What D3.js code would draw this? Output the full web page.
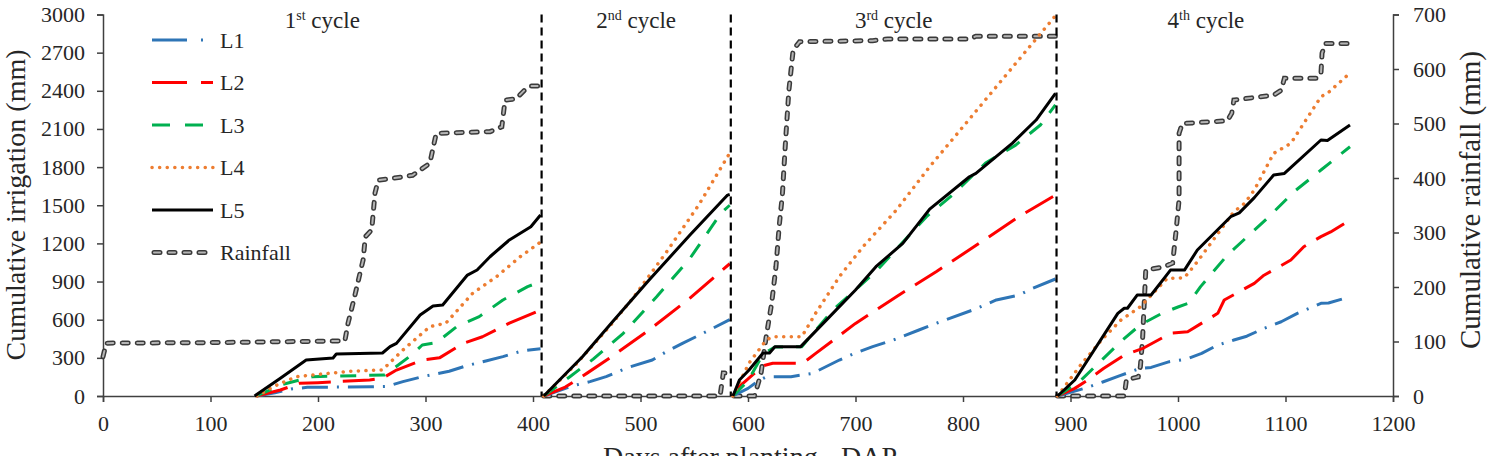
<!DOCTYPE html>
<html>
<head>
<meta charset="utf-8">
<script src="https://cdn.jsdelivr.net/npm/d3@7"></script>
<style>
body { margin: 0; background: #fff; }
text { font-family: "Liberation Serif", "Times New Roman", serif; fill: #262626; }
</style>
</head>
<body>
<div id="chart"></div>
<script>
// cumulative irrigation for the 5 treatments + cumulative rainfall over 4 cycles
// every point is [DAP, mm], null breaks the line between two cycles

var l1 = [[143,0],[160,25],[175,55],[190,68],[250,72],[264,75],[279,113],[297,152],[322,195],[339,240],[357,277],[372,310],[390,355],[407,372], null,
    [410,0],[437,80],[453,113],[468,152],[487,220],[511,283],[524,348],[539,414],[555,480],[583,600], null,
    [586,0],[600,60],[611,126],[617,150],[640,152],[660,178],[685,283],[700,338],[716,388],[735,440],[759,519],[775,571],[809,676],[831,755],[852,794],[865,847],[886,920], null,
    [888,0],[913,60],[930,110],[946,160],[965,218],[975,225],[992,270],[1008,290],[1022,335],[1037,401],[1052,440],[1064,470],[1080,532],[1096,584],[1111,650],[1133,729],[1140,731],[1160,781]];

var l2 = [[143,0],[165,47],[183,100],[200,105],[248,126],[260,140],[273,204],[297,283],[313,300],[335,414],[353,466],[378,573],[407,676], null,
    [410,0],[430,70],[450,178],[471,296],[508,519],[546,770],[583,1040], null,
    [586,0],[590,60],[604,165],[615,240],[623,257],[651,257],[663,335],[700,571],[738,781],[775,977],[815,1200],[852,1410],[886,1580], null,
    [888,0],[904,60],[916,126],[931,218],[950,322],[968,377],[993,493],[1009,505],[1037,650],[1043,755],[1071,886],[1080,950],[1105,1069],[1117,1174],[1133,1253],[1142,1290],[1160,1384]];

var l3 = [[143,0],[165,86],[195,152],[262,165],[285,309],[297,401],[310,419],[329,545],[350,624],[372,755],[395,860],[407,899], null,
    [410,0],[434,150],[456,290],[484,493],[515,780],[546,1082],[575,1440],[583,1500], null,
    [586,0],[600,120],[614,330],[625,385],[650,388],[679,676],[719,980],[766,1410],[790,1580],[821,1832],[849,1973],[872,2131],[886,2290], null,
    [888,0],[910,126],[930,290],[947,430],[965,560],[985,650],[1000,700],[1010,730],[1021,860],[1046,1109],[1083,1397],[1108,1607],[1133,1777],[1160,1960]];

var l4 = [[143,0],[160,80],[180,152],[200,170],[230,195],[260,205],[279,362],[304,545],[319,573],[344,809],[366,938],[388,1095],[407,1210], null,
    [410,0],[440,250],[471,545],[493,770],[524,1130],[554,1500],[583,1910], null,
    [586,0],[601,259],[617,440],[623,466],[650,466],[663,652],[685,938],[707,1174],[738,1462],[769,1803],[800,2117],[831,2432],[862,2747],[886,2990], null,
    [888,0],[910,250],[930,450],[947,598],[965,702],[990,925],[1006,930],[1018,1056],[1052,1449],[1062,1515],[1071,1620],[1089,1908],[1105,1987],[1127,2275],[1133,2354],[1139,2380],[1160,2540]];

var l5 = [[141,0],[165,140],[189,283],[214,299],[217,330],[260,338],[267,388],[273,414],[295,637],[307,708],[316,715],[339,951],[348,991],[360,1095],[378,1227],[398,1331],[407,1423], null,
    [410,0],[446,309],[474,584],[508,912],[546,1266],[581,1580],[583,1585], null,
    [586,0],[592,126],[601,204],[614,338],[620,338],[625,388],[649,388],[676,624],[700,834],[719,1017],[744,1200],[769,1470],[806,1724],[812,1750],[846,1989],[868,2170],[886,2380], null,
    [888,0],[904,126],[944,650],[950,690],[953,690],[962,794],[975,794],[993,990],[1006,990],[1018,1148],[1049,1410],[1057,1440],[1071,1560],[1089,1738],[1099,1750],[1133,2013],[1139,2010],[1160,2131]];

var rain = [[0,72],[3,97],[100,98],[225,101],[228,134],[234,182],[242,250],[244,292],[250,305],[253,372],[256,396],[279,402],[288,405],[304,427],[310,482],[360,485],[371,494],[374,543],[384,545],[392,561],[398,569],[408,569], null,
    [410,0],[574,0],[577,42],[583,42], null,
    [587,0],[606,0],[612,40],[617,110],[622,170],[626,237],[629,311],[632,370],[635,470],[638,560],[642,635],[648,650],[716,652],[730,655],[806,655],[812,660],[886,660], null,
    [888,0],[950,0],[952,30],[963,35],[965,54],[967,103],[970,231],[987,237],[995,244],[998,299],[1001,360],[1001,482],[1004,500],[1046,505],[1050,519],[1052,543],[1089,552],[1096,561],[1099,583],[1130,583],[1133,592],[1134,629],[1137,647],[1160,647]];

var cycleBounds = [0, 408, 584, 887, 1165];
var cycleNum = ["1", "2", "3", "4"];
var cycleSup = ["st", "nd", "rd", "th"];

var xTicks = [0,100,200,300,400,500,600,700,800,900,1000,1100,1200];
var yTicks = [0,300,600,900,1200,1500,1800,2100,2400,2700,3000];
var rainTicks = [0,100,200,300,400,500,600,700];

var width = 1489, height = 456;

var x = d3.scaleLinear().domain([0, 1200]).range([103, 1393]);
var y = d3.scaleLinear().domain([0, 3000]).range([396, 14.5]);
var yR = d3.scaleLinear().domain([0, 700]).range([396, 14.5]);

var svg = d3.select("#chart").append("svg")
    .attr("width", width)
    .attr("height", height)
    .style("background", "#fff");

// axes (plain numbers, no thousands comma)
var fmt = d3.format("d");
var xAxis = svg.append("g")
    .attr("transform", "translate(0,396)")
    .call(d3.axisBottom(x).tickValues(xTicks).tickFormat(fmt).tickSize(6).tickPadding(13));
var yAxis = svg.append("g")
    .attr("transform", "translate(103,0)")
    .call(d3.axisLeft(y).tickValues(yTicks).tickFormat(fmt).tickSize(6).tickPadding(12));
var yAxisR = svg.append("g")
    .attr("transform", "translate(1393,0)")
    .call(d3.axisRight(yR).tickValues(rainTicks).tickFormat(fmt).tickSize(6).tickPadding(14));

[xAxis, yAxis, yAxisR].forEach(function(g) {
    g.attr("font-family", null);
    g.select(".domain").attr("stroke", "#404040").attr("stroke-width", 1.5);
    g.selectAll(".tick line").attr("stroke", "#404040").attr("stroke-width", 1.5);
    g.selectAll(".tick text")
        .style("font-family", "'Liberation Serif', 'Times New Roman', serif")
        .style("font-size", "22px")
        .attr("fill", "#262626");
});

// series
var line = d3.line()
    .defined(function(d) { return d !== null; })
    .x(function(d) { return x(d[0]); })
    .y(function(d) { return y(d[1]); });

var lineR = d3.line()
    .defined(function(d) { return d !== null; })
    .x(function(d) { return x(d[0]); })
    .y(function(d) { return yR(d[1]); });

var series = [
    { name: "L1", data: l1, color: "#2E75B6", dash: "26,9,2,9", cap: "butt" },
    { name: "L2", data: l2, color: "#FF0000", dash: "32,12", cap: "butt" },
    { name: "L3", data: l3, color: "#00B050", dash: "16,13", cap: "butt" },
    { name: "L4", data: l4, color: "#ED7D31", dash: "0.1,7.5", cap: "round" },
    { name: "L5", data: l5, color: "#000000", dash: null, cap: "butt" }
];

// rainfall: outlined grey dashes
svg.append("path")
    .attr("d", lineR(rain))
    .attr("fill", "none")
    .attr("stroke", "#3a3a3a")
    .attr("stroke-width", 5)
    .attr("stroke-linecap", "round")
    .attr("stroke-dasharray", "6,9");
svg.append("path")
    .attr("d", lineR(rain))
    .attr("fill", "none")
    .attr("stroke", "#b5b5b5")
    .attr("stroke-width", 2)
    .attr("stroke-linecap", "round")
    .attr("stroke-dasharray", "6,9");

series.forEach(function(s) {
    svg.append("path")
        .attr("d", line(s.data))
        .attr("fill", "none")
        .attr("stroke", s.color)
        .attr("stroke-width", s.name == "L4" ? 3.5 : 3)
        .attr("stroke-linecap", s.cap)
        .attr("stroke-linejoin", "round")
        .attr("stroke-dasharray", s.dash);
});

// cycle dividers
svg.selectAll(".divider")
    .data(cycleBounds.slice(1, 4))
    .enter()
    .append("line")
    .attr("class", "divider")
    .attr("x1", function(d) { return x(d); })
    .attr("x2", function(d) { return x(d); })
    .attr("y1", y(3000))
    .attr("y2", y(0))
    .attr("stroke", "#000")
    .attr("stroke-width", 2.2)
    .attr("stroke-dasharray", "8,5");

// cycle labels
cycleNum.forEach(function(n, i) {
    var t = svg.append("text")
        .attr("x", x((cycleBounds[i] + cycleBounds[i + 1]) / 2))
        .attr("y", 28)
        .attr("text-anchor", "middle")
        .style("font-size", "23px");
    t.append("tspan").text(n);
    t.append("tspan").text(cycleSup[i])
        .attr("dy", -8)
        .style("font-size", "14px");
    t.append("tspan").text(" cycle")
        .attr("dy", 8);
});

// legend
var legend = svg.append("g");
series.forEach(function(s, i) {
    var ly = 40 + i * 42.5;
    legend.append("line")
        .attr("x1", 152).attr("x2", 213)
        .attr("y1", ly).attr("y2", ly)
        .attr("stroke", s.color)
        .attr("stroke-width", s.name == "L4" ? 3.5 : 3)
        .attr("stroke-linecap", s.cap)
        .attr("stroke-dasharray", s.name == "L1" ? "35,14,2,14" : s.name == "L2" ? "35,14" : s.name == "L3" ? "18,15" : s.dash);
    legend.append("text")
        .attr("x", 220)
        .attr("y", ly)
        .attr("dy", "0.35em")
        .style("font-size", "22px")
        .text(s.name);
});
var ry = 40 + 5 * 42.5;
legend.append("line")
    .attr("x1", 154).attr("x2", 211).attr("y1", ry).attr("y2", ry)
    .attr("stroke", "#3a3a3a").attr("stroke-width", 5)
    .attr("stroke-linecap", "round").attr("stroke-dasharray", "6,9");
legend.append("line")
    .attr("x1", 154).attr("x2", 211).attr("y1", ry).attr("y2", ry)
    .attr("stroke", "#b5b5b5").attr("stroke-width", 2)
    .attr("stroke-linecap", "round").attr("stroke-dasharray", "6,9");
legend.append("text")
    .attr("x", 220)
    .attr("y", ry)
    .attr("dy", "0.35em")
    .style("font-size", "22px")
    .text("Rainfall");

// axis titles
svg.append("text")
    .attr("transform", "translate(25,205) rotate(-90)")
    .attr("text-anchor", "middle")
    .style("font-size", "28px")
    .text("Cumulative irrigation (mm)");

svg.append("text")
    .attr("transform", "translate(1480,200) rotate(-90)")
    .attr("text-anchor", "middle")
    .style("font-size", "29px")
    .text("Cumulative rainfall (mm)");

svg.append("text")
    .attr("x", 750)
    .attr("y", 466)
    .attr("text-anchor", "middle")
    .style("font-size", "28px")
    .text("Days after planting - DAP");
</script>
</body>
</html>
